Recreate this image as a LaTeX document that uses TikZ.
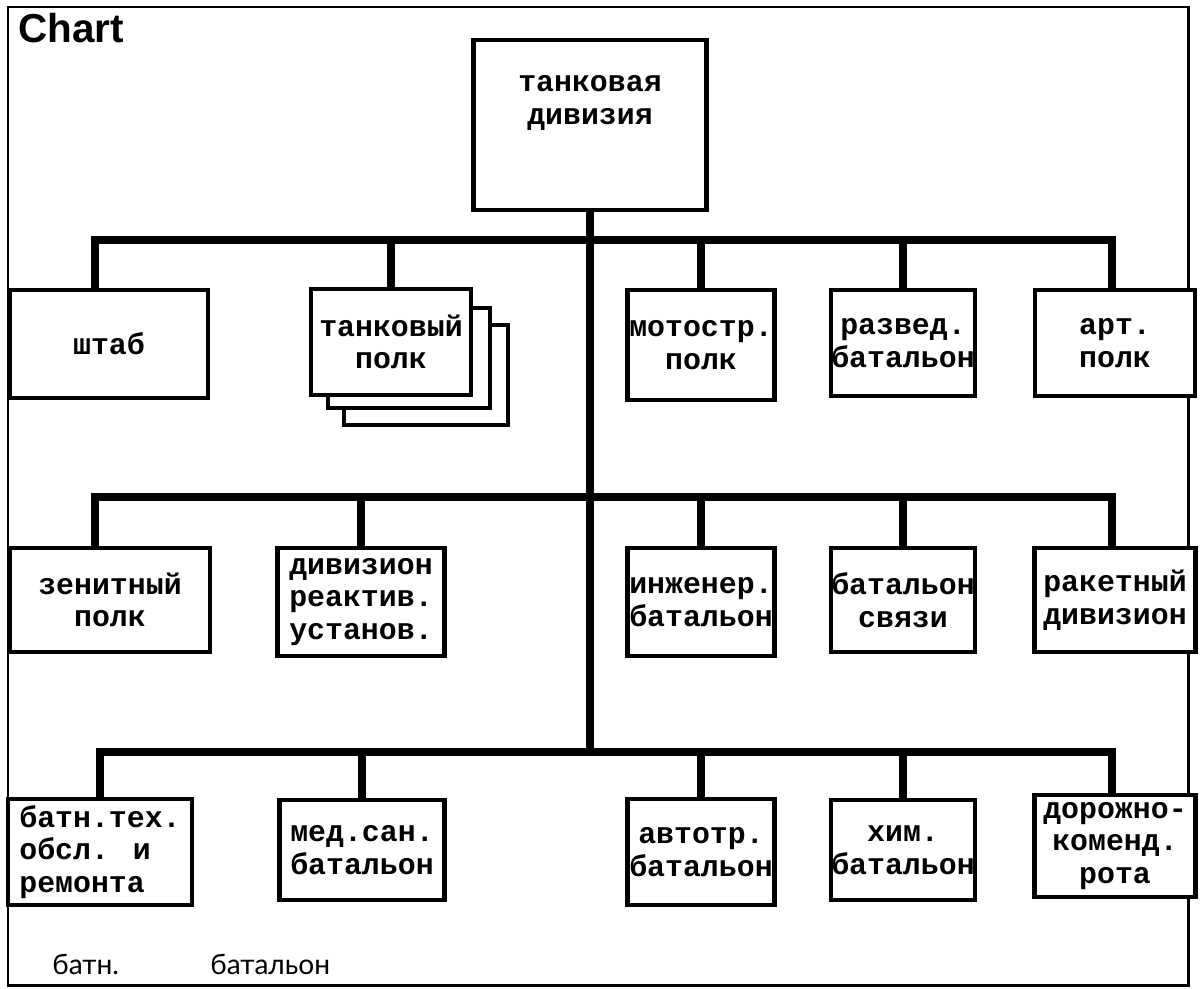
\documentclass[tikz,border=0pt]{standalone}
\usepackage{fontspec}
\newfontfamily\cajafont{Liberation Mono}
\newfontfamily\titulofont{Liberation Sans}
\newfontfamily\notafont{Lato}

\begin{document}
\begin{tikzpicture}[x=0.02cm, y=-0.02cm,
  caja/.style={draw, line width=2.4pt, fill=white, inner sep=0pt, align=center,
    font=\cajafont\bfseries\fontsize{17}{18.5}\selectfont},
  linea/.style={line width=4.5pt, line join=miter},
  nota/.style={anchor=base west, inner sep=0pt, font=\notafont\fontsize{16}{18}\selectfont}]
\useasboundingbox (0,0) rectangle (1204,988);

% Marco y titulo
\draw[line width=1.7pt] (8,7) rectangle (1188,985);
\node[anchor=north west, inner sep=0pt, font=\titulofont\bfseries\fontsize{23}{26}\selectfont] (titulo) at (18,13) {Chart};

% Division
\node[caja, minimum width=4.66cm, minimum height=3.4cm, text depth=1cm] (div) at (590,125) {танковая\\дивизия};

% Primera fila
\node[caja, minimum width=3.96cm, minimum height=2.16cm] (shtab) at (109,344) {штаб};
\node[caja, minimum width=3.28cm, minimum height=2cm] (tp3) at (426,375) {};
\node[caja, minimum width=3.24cm, minimum height=2cm] (tp2) at (409,358) {};
\node[caja, minimum width=3.2cm, minimum height=2.12cm] (tp1) at (391,342) {танковый\\полк};
\node[caja, minimum width=2.94cm, minimum height=2.2cm] (moto) at (701,345) {мотостр.\\полк};
\node[caja, minimum width=2.86cm, minimum height=2.12cm] (razved) at (903,343) {развед.\\батальон};
\node[caja, minimum width=3.2cm, minimum height=2.12cm] (art) at (1115,343) {арт.\\полк};

% Segunda fila
\node[caja, minimum width=4cm, minimum height=2.08cm] (zenit) at (110,600) {зенитный\\полк};
\node[caja, minimum width=3.34cm, minimum height=2.16cm] (reakt) at (361,602) {дивизион\\реактив.\\установ.};
\node[caja, minimum width=2.94cm, minimum height=2.16cm] (inzh) at (701,602) {инженер.\\батальон};
\node[caja, minimum width=2.86cm, minimum height=2.08cm] (svyaz) at (903,600) {батальон\\связи};
\node[caja, minimum width=3.22cm, minimum height=2.08cm] (raket) at (1115,600) {ракетный\\дивизион};

% Tercera fila
\node[caja, minimum width=3.68cm, minimum height=2.12cm, align=left] (remont) at (100,852) {батн.тех.\\обсл. и\\ремонта};
\node[caja, minimum width=3.3cm, minimum height=2cm] (medsan) at (362,850) {мед.сан.\\батальон};
\node[caja, minimum width=2.94cm, minimum height=2.12cm] (avto) at (701,852) {автотр.\\батальон};
\node[caja, minimum width=2.86cm, minimum height=2cm] (khim) at (903,850) {хим.\\батальон};
\node[caja, minimum width=3.22cm, minimum height=2.04cm] (dorozh) at (1115,846) {дорожно-\\коменд.\\рота};

% Lineas
\coordinate (b1w) at (95,240);
\coordinate (b1e) at (1112,240);
\coordinate (b2w) at (95,497);
\coordinate (b2e) at (1112,497);
\coordinate (b3w) at (100,752);
\coordinate (b3e) at (1112,752);
\draw[linea] (div.south) -- (div.south |- b3w);
\draw[linea] (b1w |- shtab.north) -- (b1w) -- (b1e) -- (b1e |- art.north);
\draw[linea] (tp1.north) -- (tp1.north |- b1w);
\draw[linea] (moto.north) -- (moto.north |- b1w);
\draw[linea] (razved.north) -- (razved.north |- b1w);
\draw[linea] (b2w |- zenit.north) -- (b2w) -- (b2e) -- (b2e |- raket.north);
\draw[linea] (reakt.north) -- (reakt.north |- b2w);
\draw[linea] (inzh.north) -- (inzh.north |- b2w);
\draw[linea] (svyaz.north) -- (svyaz.north |- b2w);
\draw[linea] (b3w |- remont.north) -- (b3w) -- (b3e) -- (b3e |- dorozh.north);
\draw[linea] (medsan.north) -- (medsan.north |- b3w);
\draw[linea] (avto.north) -- (avto.north |- b3w);
\draw[linea] (khim.north) -- (khim.north |- b3w);

% Notas
\node[nota] (nota1) at (52,974) {батн.};
\node[nota] (nota2) at (210,974) {батальон};
\end{tikzpicture}
\end{document}
